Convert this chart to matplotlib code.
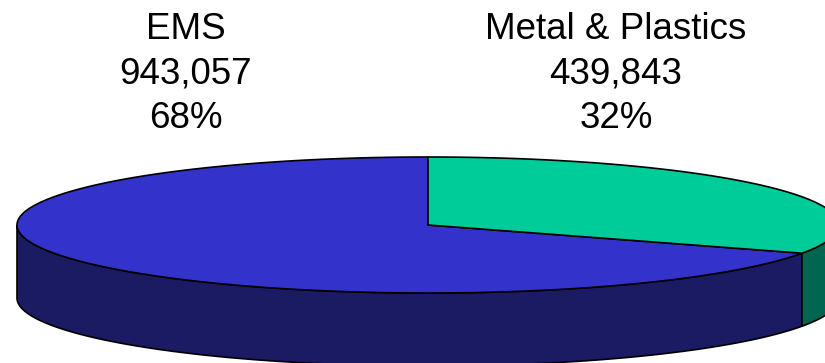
import numpy as np
import matplotlib
matplotlib.use("Agg")
import matplotlib.pyplot as plt
from matplotlib.patches import Polygon

labels = ["EMS", "Metal & Plastics"]
values = [943057, 439843]
top_colors = ["#3333CC", "#00CC99"]
side_colors = ["#1B1B63", "#006650"]

plt.rcParams["font.family"] = ["Liberation Sans", "DejaVu Sans"]

fig = plt.figure(figsize=(8.25, 3.63), dpi=100)
ax = fig.add_axes([0, 0, 1, 1])
ax.set_xlim(0, 825)
ax.set_ylim(363, 0)
ax.axis("off")

# ellipse geometry in pixel units
cx, cy, a, b, depth = 428, 225, 411, 68, 73

def rim(t):
    # t: angle in degrees, clockwise from 12 o'clock
    r = np.radians(t)
    return cx + a * np.sin(r), cy - b * np.cos(r)

total = sum(values)
fracs = [v / total for v in values]
# Metal & Plastics starts at 12 o'clock going clockwise, EMS fills the rest
spans = {1: (0, fracs[1] * 360), 0: (fracs[1] * 360, 360)}

# side walls (front half only: 90..270)
for i in [0, 1]:
    t0, t1 = spans[i]
    s0, s1 = max(t0, 90), min(t1, 270)
    if s1 <= s0:
        continue
    ts = np.linspace(s0, s1, 200)
    xs, ys = rim(ts)
    pts = list(zip(xs, ys)) + list(zip(xs[::-1], ys[::-1] + depth))
    ax.add_patch(Polygon(pts, closed=True, fc=side_colors[i], ec="black", lw=1.2))

# top faces
for i in [0, 1]:
    t0, t1 = spans[i]
    ts = np.linspace(t0, t1, 300)
    xs, ys = rim(ts)
    pts = [(cx, cy)] + list(zip(xs, ys))
    ax.add_patch(Polygon(pts, closed=True, fc=top_colors[i], ec="black", lw=1.2,
                         joinstyle="round"))

# labels, one line at a time on baselines
label_x = [186, 616]
baselines = [39, 83.5, 128]
for i in range(2):
    lines = [labels[i], format(values[i], ","), "%d%%" % round(fracs[i] * 100)]
    for line, y in zip(lines, baselines):
        ax.text(label_x[i], y, line, ha="center", va="baseline", fontsize=26.5,
                color="black")

fig.savefig("out.png", dpi=100)
